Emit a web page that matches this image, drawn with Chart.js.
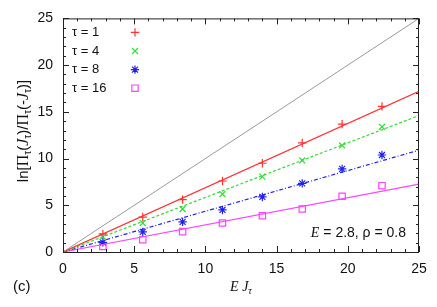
<!DOCTYPE html>
<html>
<head>
<meta charset="utf-8">
<script src="https://cdn.jsdelivr.net/npm/chart.js@4"></script>
<style>
  html, body { margin: 0; padding: 0; background: #fff; }
  #wrap { width: 437px; height: 307px; }
</style>
</head>
<body>
<div id="wrap"><canvas id="grafico"></canvas></div>
<script>
// E J_tau values (J = 1..8, E = 2.8)
let xVals = [2.8, 5.6, 8.4, 11.2, 14.0, 16.8, 19.6, 22.4];

let tau1 = [1.94, 3.74, 5.6, 7.6, 9.5, 11.67, 13.68, 15.58];
let tau4 = [1.63, 3.1, 4.6, 6.2, 8.07, 9.8, 11.4, 13.4];
let tau8 = [1.04, 2.15, 3.22, 4.5, 5.89, 7.34, 8.9, 10.38];
let tau16 = [0.59, 1.32, 2.18, 3.1, 3.88, 4.6, 5.96, 7.1];

// straight lines from 0 to x = 25 (end values)
let lineX = [0, 25];
let diagonal = [0, 25];
let fit1 = [0, 17.2];
let fit4 = [0, 14.6];
let fit8 = [0, 10.9];
let fit16 = [0, 7.27];

let legendLabels = ['τ = 1', 'τ = 4', 'τ = 8', 'τ = 16'];
let tickValues = [0, 5, 10, 15, 20, 25];

let cores = ['#ff3333', '#33dd33', '#2020ee', '#ff44ff'];

function pares(xs, ys) {
    return xs.map(function (x, i) { return { x: x, y: ys[i] }; });
}

function pontos(label, ys, cor, estilo, raio) {
    return {
        label: label,
        data: pares(xVals, ys),
        showLine: false,
        pointStyle: estilo,
        pointRadius: raio,
        borderColor: cor,
        backgroundColor: 'rgba(0,0,0,0)',
        borderWidth: 1.2,
        isPoints: true
    };
}

function reta(ys, cor, traco, largura) {
    return {
        data: pares(lineX, ys),
        showLine: true,
        pointRadius: 0,
        borderColor: cor,
        borderWidth: largura,
        borderDash: traco,
        fill: false
    };
}

// texto com partes (fonte, deslocamento vertical)
function textoMisto(ctx, partes, x, y, alinhar) {
    let total = 0;
    partes.forEach(function (p) { ctx.font = p[1]; total += ctx.measureText(p[0]).width; });
    let px = alinhar === 'center' ? x - total / 2 : (alinhar === 'right' ? x - total : x);
    ctx.textAlign = 'left';
    ctx.textBaseline = 'middle';
    partes.forEach(function (p) {
        ctx.font = p[1];
        ctx.fillText(p[0], px, y + (p[2] || 0));
        px += ctx.measureText(p[0]).width;
    });
}

let extras = {
    id: 'extras',
    afterDraw: function (chart) {
        let ctx = chart.ctx;
        let a = chart.chartArea;
        let xs = chart.scales.x, ys = chart.scales.y;
        ctx.save();
        // moldura
        ctx.strokeStyle = '#222';
        ctx.lineWidth = 1;
        ctx.strokeRect(a.left + 0.5, a.top + 0.5, a.right - a.left - 1, a.bottom - a.top);
        // ticks para dentro
        ctx.beginPath();
        for (let v = 0; v <= 25; v++) {
            let len = v % 5 === 0 ? 6 : 3;
            let px = Math.round(xs.getPixelForValue(v)) + 0.5;
            ctx.moveTo(px, a.bottom); ctx.lineTo(px, a.bottom - len);
            ctx.moveTo(px, a.top); ctx.lineTo(px, a.top + len);
            let py = Math.round(ys.getPixelForValue(v)) + 0.5;
            ctx.moveTo(a.left, py); ctx.lineTo(a.left + len, py);
            ctx.moveTo(a.right, py); ctx.lineTo(a.right - len, py);
        }
        ctx.stroke();

        ctx.fillStyle = '#111';
        let sans = '13px "Liberation Sans", Arial, sans-serif';
        let serifI = 'italic 14px "Liberation Serif", serif';

        // legenda
        let idx = 0;
        chart.data.datasets.forEach(function (ds) {
            if (!ds.isPoints) return;
            let ly = a.top + 14 + idx * 18.6;
            ctx.fillStyle = '#111';
            ctx.font = sans;
            ctx.textAlign = 'left';
            ctx.textBaseline = 'middle';
            ctx.fillText(legendLabels[idx], a.left + 9, ly);
            ctx.strokeStyle = ds.borderColor;
            ctx.fillStyle = 'rgba(0,0,0,0)';
            ctx.lineWidth = ds.borderWidth;
            Chart.helpers.drawPoint(ctx, { pointStyle: ds.pointStyle, radius: ds.pointRadius, borderWidth: ds.borderWidth }, a.left + 72, ly);
            idx++;
        });

        // anotacao
        ctx.fillStyle = '#111';
        textoMisto(ctx, [['E', serifI], [' = 2.8, ρ = 0.8', '14px "Liberation Sans", Arial, sans-serif']], a.right - 13, a.bottom - 19, 'right');

        // titulo eixo x
        textoMisto(ctx, [['E J', serifI], ['τ', 'italic 10px "Liberation Serif", serif', 4]], (a.left + a.right) / 2, 287, 'center');

        // (c)
        ctx.font = '15px "Liberation Sans", Arial, sans-serif';
        ctx.textAlign = 'left';
        ctx.fillText('(c)', 13, 287);

        // titulo eixo y
        let ySans = '15px "Liberation Sans", Arial, sans-serif';
        let ySub = '10px "Liberation Sans", Arial, sans-serif';
        let ySerif = '16px "Liberation Serif", serif';
        let ySerifI = 'italic 16px "Liberation Serif", serif';
        ctx.translate(24, 131);
        ctx.rotate(-Math.PI / 2);
        textoMisto(ctx, [
            ['ln[', ySans], ['Π', ySerif], ['τ', ySub, 4], ['(', ySans], ['J', ySerifI], ['τ', ySub, 4],
            [')/', ySans], ['Π', ySerif], ['τ', ySub, 4], ['(-', ySans], ['J', ySerifI], ['τ', ySub, 4], [')]', ySans]
        ], 0, 0, 'center');
        ctx.restore();
    }
};

let grafico = document.getElementById('grafico').getContext('2d');

let chart = new Chart(grafico, {
    type: 'scatter',
    data: {
        datasets: [
            reta(diagonal, '#9a9a9a', [], 1),
            reta(fit1, cores[0], [], 1.2),
            reta(fit4, cores[1], [3, 2], 1.2),
            reta(fit8, cores[2], [4, 2, 1, 2], 1.2),
            reta(fit16, cores[3], [], 1.2),
            pontos('τ = 1', tau1, cores[0], 'cross', 4.2),
            pontos('τ = 4', tau4, cores[1], 'crossRot', 4.2),
            pontos('τ = 8', tau8, cores[2], 'star', 4.2),
            pontos('τ = 16', tau16, cores[3], 'rect', 4.5)
        ]
    },
    options: {
        responsive: true,
        maintainAspectRatio: false,
        animation: false,
        layout: { padding: { top: 11, right: 18, left: 0, bottom: 0 } },
        plugins: { legend: { display: false }, tooltip: { enabled: false } },
        scales: {
            x: {
                type: 'linear', min: 0, max: 25,
                afterBuildTicks: function (s) { s.ticks = tickValues.map(function (v) { return { value: v }; }); },
                afterFit: function (s) { s.height = 55; },
                grid: { display: false, drawTicks: false },
                border: { display: false },
                ticks: { padding: 9, color: '#111', font: { family: '"Liberation Sans", Arial, sans-serif', size: 14 } }
            },
            y: {
                type: 'linear', min: 0, max: 25,
                afterBuildTicks: function (s) { s.ticks = tickValues.map(function (v) { return { value: v }; }); },
                afterFit: function (s) { s.width = 63; },
                grid: { display: false, drawTicks: false },
                border: { display: false },
                ticks: { padding: 10, color: '#111', font: { family: '"Liberation Sans", Arial, sans-serif', size: 14 } }
            }
        }
    },
    plugins: [extras]
});
</script>
</body>
</html>
